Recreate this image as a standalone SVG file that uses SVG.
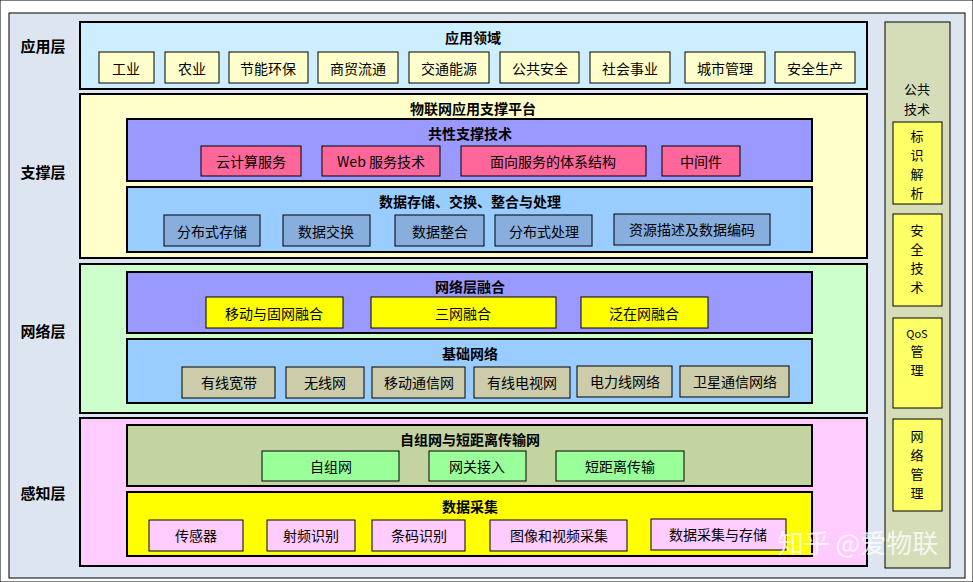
<svg xmlns="http://www.w3.org/2000/svg" width="973" height="582" viewBox="0 0 973 582">
<style>
text{font-family:"Noto Sans CJK SC","Liberation Sans",sans-serif;font-size:14px;text-anchor:middle;dominant-baseline:central;fill:#000}
.b{font-weight:bold}
.l{font-weight:bold;font-size:15px}
.v{font-size:13px}
rect{stroke:#000;stroke-width:1}
.p{stroke-width:2}
.app{fill:#ffffcc}
.pk{fill:#ff6699}
.gb{fill:#88aedd}
.ye{fill:#ffff00}
.gr{fill:#ccccaa}
.ln{fill:#99ff99}
.pp{fill:#ffccff}
.vy{fill:#ffff66}
</style>
<rect x="0" y="0" width="973" height="582" fill="#fff" stroke="none"/>
<rect x="9" y="13" width="956" height="565" fill="#dde6f0"/>
<g id="labels">
<text class="l" x="43" y="45">应用层</text>
<text class="l" x="43" y="171">支撑层</text>
<text class="l" x="43" y="330">网络层</text>
<text class="l" x="43" y="492">感知层</text>
</g>
<g id="app-layer">
<rect class="p" x="80" y="22" width="787" height="67" fill="#cceeff"/>
<text class="b" x="473" y="37">应用领域</text>
<rect class="app" x="99" y="52" width="55" height="31"/><text x="126" y="68">工业</text>
<rect class="app" x="165" y="52" width="54" height="31"/><text x="192" y="68">农业</text>
<rect class="app" x="229" y="52" width="79" height="31"/><text x="268" y="68">节能环保</text>
<rect class="app" x="318" y="52" width="80" height="31"/><text x="358" y="68">商贸流通</text>
<rect class="app" x="409" y="52" width="80" height="31"/><text x="449" y="68">交通能源</text>
<rect class="app" x="500" y="52" width="79" height="31"/><text x="540" y="68">公共安全</text>
<rect class="app" x="590" y="52" width="80" height="31"/><text x="630" y="68">社会事业</text>
<rect class="app" x="685" y="52" width="80" height="31"/><text x="725" y="68">城市管理</text>
<rect class="app" x="775" y="52" width="80" height="31"/><text x="815" y="68">安全生产</text>
</g>
<g id="support-layer">
<rect class="p" x="80" y="94" width="787" height="164" fill="#ffffcc"/>
<text class="b" x="473" y="108">物联网应用支撑平台</text>
<rect class="p" x="127" y="119" width="685" height="62" fill="#9999ff"/>
<text class="b" x="470" y="133">共性支撑技术</text>
<rect class="pk" x="201" y="146" width="100" height="30"/><text x="251" y="161">云计算服务</text>
<rect class="pk" x="322" y="146" width="118" height="30"/><text x="381" y="161">Web 服务技术</text>
<rect class="pk" x="461" y="146" width="185" height="30"/><text x="553" y="161">面向服务的体系结构</text>
<rect class="pk" x="662" y="146" width="78" height="30"/><text x="701" y="161">中间件</text>
<rect class="p" x="127" y="187" width="685" height="65" fill="#99ccff"/>
<text class="b" x="470" y="201">数据存储、交换、整合与处理</text>
<rect class="gb" x="164" y="215" width="96" height="31"/><text x="212" y="231">分布式存储</text>
<rect class="gb" x="283" y="215" width="87" height="31"/><text x="326" y="231">数据交换</text>
<rect class="gb" x="395" y="215" width="89" height="31"/><text x="440" y="231">数据整合</text>
<rect class="gb" x="495" y="215" width="97" height="31"/><text x="544" y="231">分布式处理</text>
<rect class="gb" x="614" y="214" width="156" height="31"/><text x="692" y="229">资源描述及数据编码</text>
</g>
<g id="network-layer">
<rect class="p" x="80" y="264" width="787" height="149" fill="#ccffcc"/>
<rect class="p" x="127" y="272" width="685" height="61" fill="#9999ff"/>
<text class="b" x="470" y="286">网络层融合</text>
<rect class="ye" x="206" y="297" width="137" height="31"/><text x="274" y="313">移动与固网融合</text>
<rect class="ye" x="371" y="297" width="185" height="31"/><text x="463" y="313">三网融合</text>
<rect class="ye" x="581" y="297" width="127" height="31"/><text x="644" y="313">泛在网融合</text>
<rect class="p" x="127" y="339" width="685" height="64" fill="#99ccff"/>
<text class="b" x="470" y="353">基础网络</text>
<rect class="gr" x="182" y="367" width="93" height="31"/><text x="229" y="382">有线宽带</text>
<rect class="gr" x="286" y="367" width="78" height="31"/><text x="325" y="382">无线网</text>
<rect class="gr" x="372" y="367" width="93" height="31"/><text x="419" y="382">移动通信网</text>
<rect class="gr" x="474" y="367" width="96" height="31"/><text x="522" y="382">有线电视网</text>
<rect class="gr" x="577" y="366" width="95" height="31"/><text x="625" y="381">电力线网络</text>
<rect class="gr" x="680" y="366" width="109" height="31"/><text x="735" y="381">卫星通信网络</text>
</g>
<g id="perception-layer">
<rect class="p" x="80" y="418" width="787" height="148" fill="#ffccff"/>
<rect class="p" x="127" y="425" width="685" height="61" fill="#c4d4a0"/>
<text class="b" x="470" y="439">自组网与短距离传输网</text>
<rect class="ln" x="262" y="451" width="137" height="30"/><text x="331" y="466">自组网</text>
<rect class="ln" x="429" y="451" width="97" height="30"/><text x="477" y="466">网关接入</text>
<rect class="ln" x="556" y="451" width="128" height="30"/><text x="620" y="466">短距离传输</text>
<rect class="p" x="127" y="492" width="685" height="64" fill="#ffff00"/>
<text class="b" x="470" y="506">数据采集</text>
<rect class="pp" x="149" y="520" width="94" height="31"/><text x="196" y="535">传感器</text>
<rect class="pp" x="267" y="520" width="88" height="31"/><text x="311" y="535">射频识别</text>
<rect class="pp" x="372" y="520" width="93" height="31"/><text x="419" y="535">条码识别</text>
<rect class="pp" x="490" y="520" width="137" height="31"/><text x="559" y="535">图像和视频采集</text>
<rect class="pp" x="651" y="519" width="135" height="31"/><text x="718" y="534">数据采集与存储</text>
</g>
<g id="public-tech">
<rect x="885" y="22" width="65" height="546" fill="#d4ddb8"/>
<text class="v" x="917" y="88">公共</text>
<text class="v" x="917" y="108">技术</text>
<rect class="vy" x="893" y="122" width="49" height="82"/>
<text class="v" x="917" y="135">标</text><text class="v" x="917" y="154">识</text><text class="v" x="917" y="173">解</text><text class="v" x="917" y="192">析</text>
<rect class="vy" x="893" y="214" width="49" height="92"/>
<text class="v" x="917" y="229">安</text><text class="v" x="917" y="248">全</text><text class="v" x="917" y="267">技</text><text class="v" x="917" y="286">术</text>
<rect class="vy" x="893" y="318" width="49" height="90"/>
<text x="917" y="333" style="font-size:11px">QoS</text><text class="v" x="917" y="350">管</text><text class="v" x="917" y="369">理</text>
<rect class="vy" x="893" y="419" width="49" height="92"/>
<text class="v" x="917" y="435">网</text><text class="v" x="917" y="454">络</text><text class="v" x="917" y="473">管</text><text class="v" x="917" y="492">理</text>
</g>
<text x="858" y="541" style="font-size:26px;fill:#fff;fill-opacity:0.8">知乎 @爱物联</text>
</svg>
